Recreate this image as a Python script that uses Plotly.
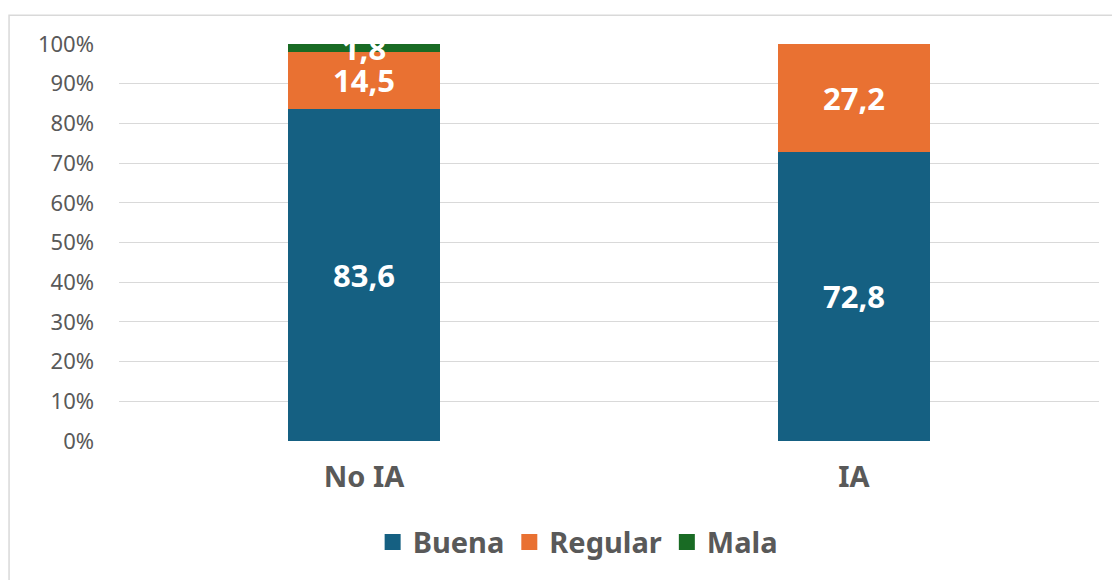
import plotly.graph_objects as go

categories = ["No IA", "IA"]
buena = [83.6, 72.8]
regular = [14.5, 27.2]
mala = [1.8, 0.0]
series_names = ["Buena", "Regular", "Mala"]
colors = ["#156082", "#E97132", "#196B24"]
ytick_vals = [0, 10, 20, 30, 40, 50, 60, 70, 80, 90, 100]
ytick_text = [f"{v}%" for v in ytick_vals]

def fmt(v):
    return "" if v == 0 else f"{v:.1f}".replace(".", ",")

FONT = "Noto Sans"
fig = go.Figure()
for name, vals, col in zip(series_names, [buena, regular, mala], colors):
    fig.add_trace(go.Bar(
        x=categories, y=vals, name=name, showlegend=False,
        marker=dict(color=col, line=dict(width=0)),
        text=[fmt(v) for v in vals],
        textposition="inside", insidetextanchor="middle",
        textangle=0,
        textfont=dict(family=FONT, size=31, color="white", weight="bold"),
        cliponaxis=True,
    ))
# legend entries with larger square symbols
for name, col in zip(series_names, colors):
    fig.add_trace(go.Scatter(
        x=[None], y=[None], mode="markers", name=name,
        marker=dict(symbol="square", size=21, color=col),
    ))

fig.update_layout(
    barmode="stack",
    bargap=0.688,
    width=1112, height=572,
    margin=dict(l=111, r=21, t=36, b=137),
    paper_bgcolor="white", plot_bgcolor="white",
    font=dict(family=FONT, color="#595959"),
    uniformtext=dict(mode="show", minsize=31),
    showlegend=True,
    legend=dict(orientation="h", x=0.468, xanchor="center", y=-0.255, yanchor="middle",
                font=dict(family=FONT, size=29, color="#595959", weight="bold"),
                itemwidth=30, traceorder="normal"),
    xaxis=dict(showgrid=False, showline=False, ticks="",
               tickfont=dict(family=FONT, size=29, color="#595959", weight="bold"),
               ticklabelstandoff=16),
    yaxis=dict(range=[0, 100], tickmode="array", tickvals=ytick_vals, ticktext=ytick_text,
               showgrid=True, gridcolor="#D9D9D9", gridwidth=1.3,
               zeroline=False, showline=False,
               tickfont=dict(family=FONT, size=22, color="#595959"),
               ticklabelstandoff=24),
    shapes=[dict(type="rect", xref="paper", yref="paper",
                 x0=-0.1122, x1=1.05, y0=-0.4, y1=1.0727,
                 line=dict(color="#D9D9D9", width=1.5), fillcolor="rgba(0,0,0,0)",
                 layer="below")],
)

fig.write_html("out.html")
